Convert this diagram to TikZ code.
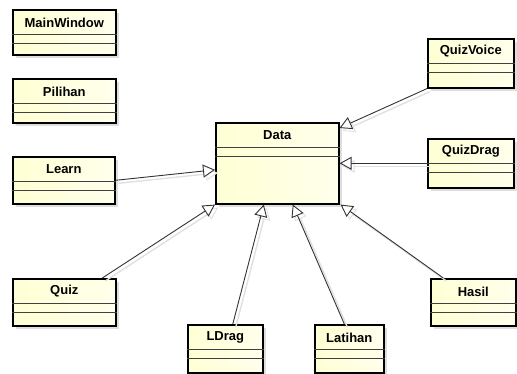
\documentclass[tikz,border=0pt]{standalone}
\usepackage{fontspec}
\setmainfont{Liberation Sans}
\usetikzlibrary{calc,arrows.meta}
\definecolor{clsfillA}{RGB}{255,255,212}
\definecolor{clsfillB}{RGB}{255,255,236}
\tikzset{
	cls/.style={draw=black, line width=1.6pt, left color=clsfillA, right color=clsfillB, inner sep=0pt},
	clsshadow/.style={fill=black!13},
	clstitle/.style={font=\bfseries\fontsize{13}{13}\selectfont, inner sep=0pt},
	clsline/.style={draw=black!75, line width=0.7pt},
	gen/.style={draw=black!80, line width=0.9pt, -{Triangle[length=12pt, width=13pt, fill=white, line width=0.9pt]},
		preaction={draw=black!12, line width=1.4pt, transform canvas={shift={(3pt,-3pt)}}}}
}
% class box: (name)(x,y)(width,height){title}
\def\umlclass(#1)(#2,#3)(#4,#5)#6{%
	\fill[clsshadow] (#2+4,#3+4) rectangle (#2+#4+4,#3+#5+4);
	\node[cls, minimum width=#4pt, minimum height=#5pt, anchor=north west] (#1) at (#2,#3) {};
	\node[clstitle] (#1-t) at ($(#1.north)+(0,13.5)$) {#6};
	\draw[clsline] ($(#1.north west)+(0,25)$) -- ($(#1.north east)+(0,25)$);
	\draw[clsline] ($(#1.north west)+(0,34)$) -- ($(#1.north east)+(0,34)$);
}

\begin{document}
\begin{tikzpicture}[x=1pt, y=-1pt]
	%%%%% START %%%%%
	\useasboundingbox (0,0) rectangle (517,374);
	
	\umlclass(mainwindow)(12,9)(103,45){MainWindow}
	\umlclass(pilihan)(12,78)(103,44){Pilihan}
	\umlclass(learn)(12,156)(102,47){Learn}
	\umlclass(quiz)(12,278)(103,47){Quiz}
	
	\umlclass(data)(215,122)(123,81){Data}
	
	\umlclass(quizvoice)(427,38)(86,49){QuizVoice}
	\umlclass(quizdrag)(427,138)(86,49){QuizDrag}
	\umlclass(hasil)(430,278)(85,47){Hasil}
	
	\umlclass(ldrag)(187,324)(75,48){LDrag}
	\umlclass(latihan)(314,324)(69,48){Latihan}
	
	% generalizations
	\draw[gen] (quizvoice.south west) -- ([yshift=-6pt]data.north east);
	\draw[gen] (quizdrag.west) -- (data.east);
	\draw[gen] (learn.east) -- ([yshift=-6.5pt]data.west);
	\draw[gen] ([xshift=38pt]quiz.north) -- (data.south west);
	\draw[gen] ([xshift=7.5pt]ldrag.north) -- ([xshift=-13.5pt]data.south);
	\draw[gen] ([xshift=-5pt]latihan.north) -- ([xshift=15.5pt]data.south);
	\draw[gen] ([xshift=-30pt]hasil.north) -- ([xshift=1pt]data.south east);
	%%%%% END %%%%%
\end{tikzpicture}
\end{document}
